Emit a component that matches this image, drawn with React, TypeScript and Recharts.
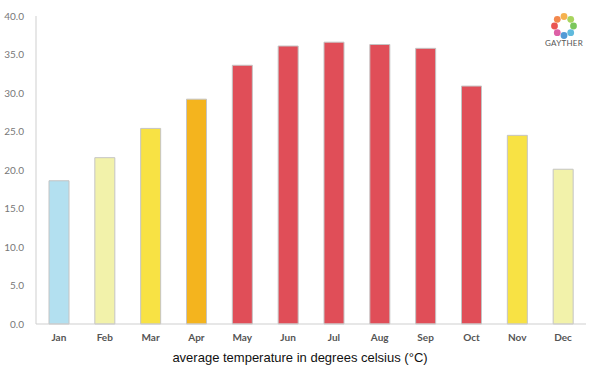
import { Bar, BarChart, Cell, XAxis, YAxis } from "recharts";

const months = ["Jan", "Feb", "Mar", "Apr", "May", "Jun", "Jul", "Aug", "Sep", "Oct", "Nov", "Dec"];
const temps = [18.6, 21.6, 25.4, 29.2, 33.6, 36.1, 36.6, 36.3, 35.8, 30.9, 24.5, 20.1];
const yTicks = [0, 5, 10, 15, 20, 25, 30, 35, 40];
const logoColors = ["#f4a93b", "#9fcf4c", "#6cc04a", "#4fb3d9", "#3f8fd1", "#d94f9c", "#e8423f", "#f27b3a"];

function barColor(t: number) {
  if (t < 20) return "#b3e0f0";
  if (t < 24) return "#f2f2aa";
  if (t < 27) return "#f8e244";
  if (t < 30) return "#f4b41e";
  return "#e04e58";
}

const data = months.map((m, i) => ({ month: m, temp: temps[i] }));

function Logo() {
  const cx = 564;
  const cy = 26;
  return (
    <svg width={600} height={60} style={{ position: "absolute", left: 0, top: 0 }}>
      {logoColors.map((c, i) => {
        const a = (i / logoColors.length) * Math.PI * 2 - Math.PI / 2;
        return (
          <circle key={c} cx={cx + Math.cos(a) * 9.5} cy={cy + Math.sin(a) * 9.5} r={3.4} fill={c} opacity={0.9} />
        );
      })}
      <text x={cx} y={46} textAnchor="middle" fontFamily="Lato, sans-serif" fontSize={8} fill="#555" letterSpacing={0.3}>
        GAYTHER
      </text>
    </svg>
  );
}

export default function App() {
  return (
    <div style={{ position: "absolute", left: 0, top: 0, width: 600, height: 375, background: "#fff" }}>
      <BarChart width={600} height={375} data={data} margin={{ top: 16, right: 14, left: 0, bottom: 21 }}>
        <YAxis
          domain={[0, 40]}
          ticks={yTicks}
          width={36}
          tickLine={false}
          axisLine={{ stroke: "#cfcfcf" }}
          tickFormatter={(v: number) => v.toFixed(1)}
          tick={{ fill: "#777", fontSize: 10, fontFamily: "Lato, sans-serif" }}
          tickMargin={6}
        />
        <XAxis
          dataKey="month"
          height={30}
          tickLine={false}
          axisLine={{ stroke: "#cfcfcf" }}
          tick={{ fill: "#555", fontSize: 10, fontWeight: "bold", fontFamily: "Lato, sans-serif" }}
          tickMargin={4}
        />
        <Bar dataKey="temp" barSize={20} stroke="#c4c4c4" strokeWidth={1} isAnimationActive={false}>
          {data.map((d) => (
            <Cell key={d.month} fill={barColor(d.temp)} />
          ))}
        </Bar>
      </BarChart>
      <div
        style={{
          position: "absolute",
          left: 0,
          width: 600,
          top: 350,
          textAlign: "center",
          fontFamily: "'Liberation Sans', Arial, sans-serif",
          fontSize: 13,
          color: "#111",
        }}
      >
        average temperature in degrees celsius (°C)
      </div>
      <Logo />
    </div>
  );
}
